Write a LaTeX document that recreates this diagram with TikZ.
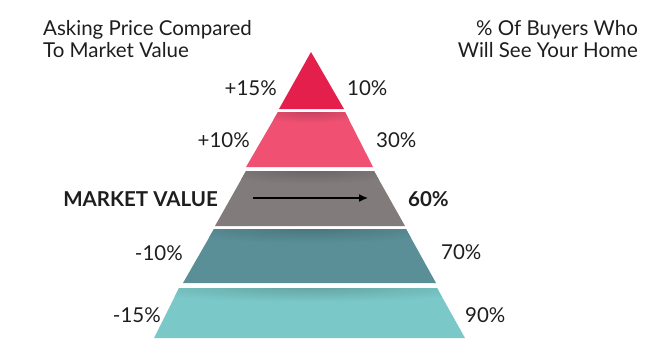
\documentclass[tikz,border=0pt]{standalone}
\usepackage{fontspec}
\usepackage{tikz}
\usetikzlibrary{arrows.meta}
\setmainfont{Lato}

\definecolor{bandA}{HTML}{E41F4B}
\definecolor{bandB}{HTML}{F05072}
\definecolor{bandC}{HTML}{827B7B}
\definecolor{bandD}{HTML}{5A8F98}
\definecolor{bandE}{HTML}{7BC8C8}
\definecolor{txt}{HTML}{1E1E1E}

\begin{document}
\begin{tikzpicture}[x=1pt,y=-1pt,
    lbl/.style={font=\fontsize{20.5}{24}\selectfont, text=txt, inner sep=0pt},
    hd/.style={font=\fontsize{20.5}{24}\selectfont, text=txt, inner sep=0pt}]
    \useasboundingbox (0,0) rectangle (647,359);

    % Headings
    \node[hd, anchor=base west] (hdl1) at (43,35) {Asking Price Compared};
    \node[hd, anchor=base west] (hdl2) at (43,57) {To Market Value};
    \node[hd, anchor=base east] (hdr1) at (638,35) {\% Of Buyers Who};
    \node[hd, anchor=base east] (hdr2) at (638,57) {Will See Your Home};

    % Pyramid bands
    \fill[bandA] (311,52) -- (344,109) -- (279,109) -- cycle;
    \fill[bandB] (278,112) -- (345,112) -- (373,167) -- (246,167) -- cycle;
    \fill[bandC] (246,171) -- (374,171) -- (405,226) -- (215,226) -- cycle;
    \fill[bandD] (214,229) -- (406,229) -- (436,283) -- (183,283) -- cycle;
    \fill[bandE] (179,288) -- (437,288) -- (465,338) -- (154,338) -- cycle;

    % Soft shadows under each gap
    \begin{scope}
        \clip (278,112) -- (345,112) -- (373,167) -- (246,167) -- cycle;
        \shade[inner color=bandB!82!black, outer color=bandB] (311,111) ellipse (60 and 12);
    \end{scope}
    \begin{scope}
        \clip (246,171) -- (374,171) -- (405,226) -- (215,226) -- cycle;
        \shade[inner color=bandC!82!black, outer color=bandC] (310,170) ellipse (100 and 14);
    \end{scope}
    \begin{scope}
        \clip (214,229) -- (406,229) -- (436,283) -- (183,283) -- cycle;
        \shade[inner color=bandD!82!black, outer color=bandD] (310,228) ellipse (140 and 15);
    \end{scope}
    \begin{scope}
        \clip (179,288) -- (437,288) -- (465,338) -- (154,338) -- cycle;
        \shade[inner color=bandE!82!black, outer color=bandE] (310,287) ellipse (180 and 15);
    \end{scope}

    % Market value arrow
    \coordinate (arrS) at (253,198);
    \coordinate (arrE) at (368,198);
    \draw[-{Latex[length=9pt,width=8pt]}, line width=1.3pt] (arrS) -- (arrE);

    % Left labels
    \node[lbl, anchor=east] (p15) at (277,88) {+15\%};
    \node[lbl, anchor=east] (p10) at (250,140) {+10\%};
    \node[lbl, anchor=east, font=\fontsize{20.5}{24}\selectfont\bfseries] (mv) at (218,199) {MARKET VALUE};
    \node[lbl, anchor=east] (m10) at (183,253) {-10\%};
    \node[lbl, anchor=east] (m15) at (161,315) {-15\%};

    % Right labels
    \node[lbl, anchor=west] (b10) at (347,88) {10\%};
    \node[lbl, anchor=west] (b30) at (376,140) {30\%};
    \node[lbl, anchor=west, font=\fontsize{20.5}{24}\selectfont\bfseries] (b60) at (408,199) {60\%};
    \node[lbl, anchor=west] (b70) at (441,252) {70\%};
    \node[lbl, anchor=west] (b90) at (465,315) {90\%};
\end{tikzpicture}
\end{document}
